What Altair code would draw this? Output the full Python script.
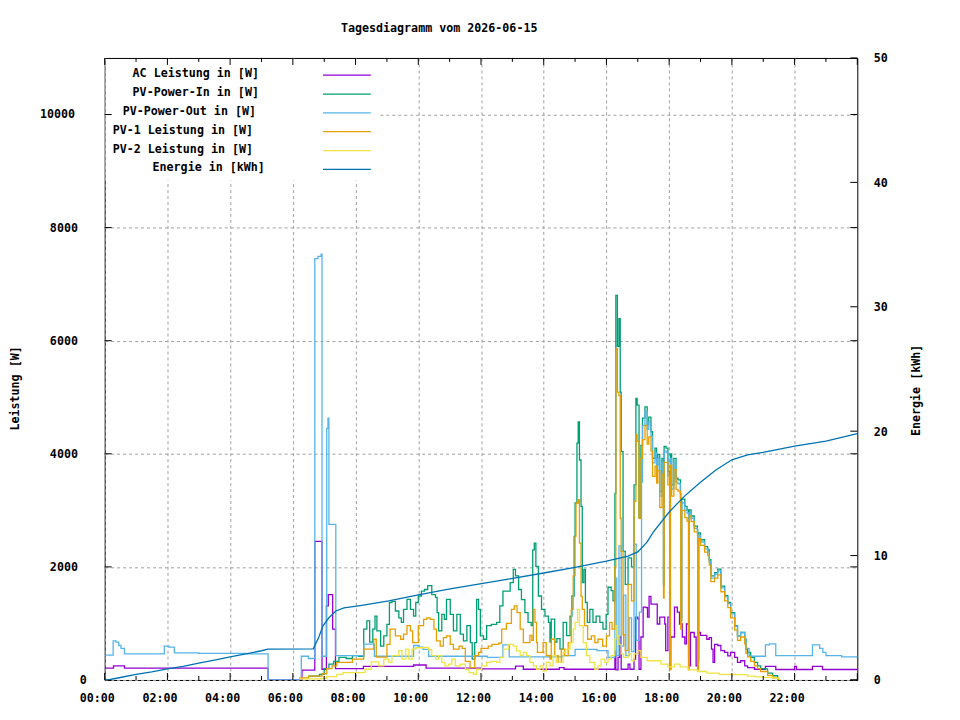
import altair as alt
import pandas as pd

TITLE = "Tagesdiagramm vom 2026-06-15"
Y_TITLE = "Leistung [W]"
Y2_TITLE = "Energie [kWh]"
NAMES = ["AC Leistung in [W]", "PV-Power-In in [W]", "PV-Power-Out in [W]",
         "PV-1 Leistung in [W]", "PV-2 Leistung in [W]", "Energie in [kWh]"]
COLORS = ["#9400d3", "#009e73", "#56b4e9", "#e69f00", "#f0e442", "#0072b2"]

X_TICKS = list(range(0, 25))
X_LABELS = list(range(0, 24, 2))
Y_TICKS = [0, 2000, 4000, 6000, 8000, 10000]
Y2_TICKS = [0, 10, 20, 30, 40, 50]

# (hour, W)
ac = [(0.00,210),(0.28,250),(0.63,210),(5.21,0),(6.29,175),(6.70,2450),(6.93,190),(7.07,1310),(7.13,1510),
      (7.27,900),(7.36,200),(8.25,240),(9.85,265),(10.25,210),(12.00,195),(13.10,245),(13.35,190),(14.50,220),
      (14.65,190),(16.27,510),(16.30,180),(16.37,400),(16.42,760),(16.47,190),(16.69,280),(16.75,190),
      (16.88,370),(16.93,1110),(17.00,1080),(17.04,190),(17.10,760),(17.17,1290),(17.26,1280),(17.31,1110),
      (17.36,1480),(17.42,1340),(17.55,1340),(17.62,990),(17.70,1110),(17.80,1110),(17.86,990),(17.89,520),
      (17.96,1110),(18.02,190),(18.05,760),(18.17,1290),(18.26,1200),(18.33,990),(18.42,760),(18.50,640),
      (18.55,990),(18.62,250),(18.68,840),(18.80,760),(18.86,250),(18.92,840),(19.00,790),(19.20,720),
      (19.28,750),(19.35,545),(19.40,310),(19.45,630),(19.55,610),(19.65,520),(19.77,490),(19.87,425),
      (19.96,490),(20.09,400),(20.18,310),(20.28,340),(20.41,250),(20.50,220),(20.72,190),(21.07,240),
      (21.40,185),(22.00,240),(22.06,185),(22.57,240),(22.89,185),(24.00,185)]

pv_in = [(6.50,70),(6.85,100),(7.00,200),(7.15,280),(7.30,330),(7.47,400),(7.70,380),(7.90,430),(8.10,420),
         (8.26,900),(8.36,1045),(8.45,670),(8.55,900),(8.62,1130),(8.68,870),(8.80,600),(8.90,780),(9.00,985),
         (9.08,1370),(9.16,1390),(9.27,1220),(9.38,1100),(9.46,1020),(9.53,1250),(9.64,1425),(9.75,1250),
         (9.85,1130),(9.92,1370),(10.00,1485),(10.10,1570),(10.20,1600),(10.30,1670),(10.43,1510),(10.55,1460),
         (10.60,1190),(10.65,870),(10.75,1160),(10.83,1074),(10.90,1425),(11.02,1160),(11.12,870),(11.23,1160),
         (11.34,810),(11.44,690),(11.55,960),(11.66,660),(11.72,370),(11.80,660),(11.86,1425),(11.92,1250),
         (11.98,780),(12.08,720),(12.18,960),(12.33,985),(12.50,1020),(12.60,1310),(12.70,1570),(12.80,1570),
         (12.93,1720),(13.03,1955),(13.10,1840),(13.20,1600),(13.29,1420),(13.40,1190),(13.50,1020),(13.60,960),
         (13.65,2300),(13.70,2420),(13.75,2010),(13.83,1485),(13.93,1250),(14.04,1130),(14.15,1020),(14.20,670),
         (14.24,1075),(14.35,670),(14.42,730),(14.52,545),(14.62,1020),(14.73,786),(14.84,1130),(14.90,1485),
         (14.97,2540),(15.00,3130),(15.06,4190),(15.10,4565),(15.14,3890),(15.19,3070),(15.23,1720),(15.28,1955),
         (15.33,1370),(15.39,1020),(15.47,1250),(15.57,1020),(15.67,1130),(15.79,1020),(15.89,900),(15.99,1160),
         (16.05,1640),(16.15,1580),(16.21,1400),(16.27,3300),(16.30,6800),(16.35,5900),(16.40,6390),(16.44,5090),
         (16.47,4040),(16.53,2275),(16.60,1690),(16.69,2160),(16.80,2000),(16.88,3450),(16.94,4980),(16.98,4860),
         (17.04,2870),(17.10,4150),(17.15,4630),(17.23,4830),(17.30,4510),(17.35,4650),(17.42,4390),(17.47,3920),
         (17.55,4100),(17.60,3800),(17.64,3990),(17.70,3330),(17.77,3920),(17.82,1700),(17.84,4130),(17.90,4100),
         (17.96,3690),(18.02,400),(18.04,4000),(18.08,3450),(18.15,3920),(18.22,3570),(18.28,3540),(18.36,3300),
         (18.37,1100),(18.40,3200),(18.50,3070),(18.57,3010),(18.62,400),(18.64,3010),(18.70,2900),(18.80,2720),
         (18.90,2660),(18.91,350),(18.94,2600),(19.00,2480),(19.13,2360),(19.23,2300),(19.28,2130),(19.33,1840),
         (19.45,1900),(19.55,1960),(19.65,1660),(19.77,1490),(19.87,1370),(19.96,1190),(20.09,960),(20.18,780),
         (20.28,840),(20.41,720),(20.45,545),(20.50,486),(20.60,400),(20.72,310),(20.82,250),(20.92,200),
         (21.04,195),(21.14,120),(21.30,75),(21.46,20),(21.50,0)]

pv_out = [(0.00,440),(0.27,690),(0.36,670),(0.45,610),(0.52,560),(0.63,460),(1.90,600),(2.05,580),(2.22,480),
          (3.00,470),(4.50,460),(5.21,0),(6.27,420),(6.50,380),(6.70,7450),(6.80,7490),(6.90,7530),(6.93,420),
          (7.08,4450),(7.12,4630),(7.15,2750),(7.37,430),(8.26,634),(8.60,420),(9.85,610),(10.00,580),
          (10.15,540),(10.33,420),(12.20,400),(12.70,620),(12.90,410),(14.60,430),(15.00,540),(15.70,520),
          (16.05,400),(16.27,1800),(16.33,430),(16.40,2370),(16.47,600),(16.55,1500),(16.62,430),(16.72,1100),
          (16.80,500),(16.88,2400),(16.95,700),(17.05,1200),(17.12,3500),(17.15,4500),(17.23,4750),(17.30,4430),
          (17.35,4560),(17.42,4310),(17.47,3840),(17.55,4020),(17.60,3720),(17.64,3910),(17.70,3250),(17.77,3840),
          (17.82,1650),(17.84,4050),(17.90,4020),(17.96,3610),(18.02,350),(18.04,3920),(18.08,3380),(18.15,3840),
          (18.22,3500),(18.28,3470),(18.36,3230),(18.37,1050),(18.40,3130),(18.50,3000),(18.57,2950),(18.62,350),
          (18.64,2960),(18.70,2860),(18.80,2680),(18.90,2620),(18.91,330),(18.94,2560),(19.00,2440),(19.13,2320),
          (19.23,2260),(19.28,2090),(19.33,1800),(19.45,1870),(19.55,1930),(19.65,1630),(19.77,1470),(19.87,1350),
          (19.96,1170),(20.09,950),(20.18,780),(20.28,840),(20.41,720),(20.45,560),(20.55,420),(21.07,620),
          (21.20,640),(21.40,430),(22.57,620),(22.80,560),(22.90,490),(23.00,430),(23.50,410),(24.00,390)]

pv1 = [(6.20,35),(6.50,70),(6.93,110),(7.08,200),(7.25,250),(7.40,310),(7.90,370),(8.26,545),(8.58,720),
       (8.66,405),(9.00,630),(9.10,900),(9.27,780),(9.44,720),(9.53,810),(9.64,960),(9.75,870),(9.82,660),
       (10.00,960),(10.17,1070),(10.27,1100),(10.38,1070),(10.50,900),(10.58,690),(10.70,600),(10.80,750),
       (10.90,780),(11.02,630),(11.12,545),(11.30,600),(11.40,560),(11.50,330),(11.65,220),(11.80,430),
       (11.92,490),(12.00,560),(12.23,600),(12.35,630),(12.56,650),(12.66,900),(12.81,1000),(12.97,1250),
       (13.06,1310),(13.15,1190),(13.25,900),(13.35,660),(13.56,790),(13.62,700),(13.67,1250),(13.72,1020),
       (13.77,660),(13.80,490),(13.98,660),(14.08,430),(14.20,370),(14.24,720),(14.35,430),(14.46,310),
       (14.56,545),(14.67,430),(14.78,660),(14.88,1250),(14.94,1840),(15.00,2540),(15.03,3130),(15.10,3190),
       (15.14,2420),(15.19,1480),(15.23,1250),(15.30,960),(15.40,720),(15.52,780),(15.63,660),(15.73,720),
       (15.88,600),(16.00,780),(16.10,1020),(16.18,900),(16.27,2000),(16.30,5860),(16.35,5090),(16.40,5030),
       (16.44,2860),(16.47,2275),(16.53,800),(16.60,520),(16.69,1690),(16.80,1400),(16.88,3160),(16.94,4340),
       (16.98,4220),(17.04,2860),(17.10,3920),(17.15,4250),(17.23,4500),(17.30,4170),(17.35,4300),(17.42,4050),
       (17.47,3600),(17.55,3780),(17.60,3480),(17.64,3700),(17.70,3050),(17.77,3640),(17.82,1450),(17.84,3850),
       (17.90,3850),(17.96,3450),(18.02,180),(18.04,3800),(18.08,3250),(18.15,3720),(18.22,3370),(18.28,3340),
       (18.36,3100),(18.37,900),(18.40,3000),(18.50,2870),(18.57,2810),(18.62,180),(18.64,2900),(18.70,2800),
       (18.80,2620),(18.90,2560),(18.91,180),(18.94,2500),(19.00,2380),(19.13,2260),(19.23,2200),(19.28,2030),
       (19.33,1740),(19.45,1800),(19.55,1860),(19.65,1560),(19.77,1400),(19.87,1280),(19.96,1100),(20.09,880),
       (20.18,700),(20.28,760),(20.41,640),(20.45,470),(20.50,410),(20.60,330),(20.72,250),(20.82,200),
       (20.92,150),(21.04,150),(21.14,80),(21.30,40),(21.46,5),(21.52,0)]

pv2 = [(6.20,20),(6.90,30),(7.08,60),(7.40,100),(7.60,130),(8.30,190),(8.50,320),(8.74,250),(8.90,370),
       (9.06,310),(9.16,430),(9.38,520),(9.48,370),(9.60,545),(9.70,370),(9.80,545),(9.92,570),(10.20,575),
       (10.33,535),(10.43,430),(10.55,370),(10.65,430),(10.75,310),(10.85,250),(10.97,280),(11.07,370),
       (11.18,250),(11.34,280),(11.50,190),(11.62,130),(11.76,100),(11.86,190),(12.02,250),(12.18,310),
       (12.33,330),(12.50,310),(12.60,400),(12.72,545),(12.87,630),(13.03,600),(13.13,515),(13.25,430),
       (13.35,490),(13.45,430),(13.56,310),(13.67,250),(13.77,190),(13.88,250),(13.98,160),(14.08,310),
       (14.20,250),(14.30,430),(14.40,310),(14.62,490),(14.70,545),(14.84,660),(14.94,900),(15.00,1020),
       (15.08,1250),(15.14,960),(15.26,660),(15.36,430),(15.47,310),(15.63,190),(15.73,250),(15.83,370),
       (15.95,310),(16.05,370),(16.15,430),(16.27,720),(16.30,960),(16.35,780),(16.40,630),(16.47,460),
       (16.55,400),(16.69,460),(16.80,340),(16.88,460),(17.00,520),(17.10,400),(17.30,340),(17.74,280),
       (17.96,230),(18.17,280),(18.35,230),(18.60,180),(18.90,150),(19.20,120),(19.60,100),(20.00,95),
       (20.50,70),(20.75,55),(21.00,45),(21.30,35),(21.52,0)]

# (hour, kWh)
energy = [(0.00,0.0),(0.10,0.0),(0.50,0.2),(1.00,0.45),(1.50,0.65),(2.00,0.9),(2.50,1.1),(3.00,1.35),
          (3.50,1.6),(4.00,1.85),(4.50,2.1),(5.00,2.35),(5.20,2.48),(6.65,2.5),(6.83,3.45),(6.96,4.35),
          (7.15,5.0),(7.37,5.55),(7.63,5.8),(8.20,6.0),(9.06,6.35),(10.00,6.85),(10.97,7.3),(11.92,7.7),
          (12.87,8.1),(14.00,8.6),(15.00,9.05),(16.00,9.55),(16.69,9.95),(17.00,10.3),(17.30,11.1),
          (17.50,11.9),(18.00,13.5),(18.50,14.8),(19.00,15.9),(19.50,16.9),(20.00,17.7),(20.50,18.1),
          (21.00,18.3),(22.00,18.8),(23.00,19.2),(24.00,19.8)]

# ---------------------------------------------------------------------------
W, H = 755, 624
FONT = "DejaVu Sans Mono"
FS = 11.7
GRID = "#a0a0a0"
LW = 1.3
TXT = dict(font=FONT, fontSize=FS, fontWeight="bold", color="black")


def frame(pairs):
    return pd.DataFrame(pairs, columns=["h", "v"])


one = pd.DataFrame({"a": [0]})

x_axis = alt.Axis(values=X_LABELS,
                  labelExpr="(datum.value < 10 ? '0' : '') + datum.value + ':00'",
                  grid=True, gridColor=GRID, gridDash=[3, 3], gridWidth=1,
                  ticks=False, domain=False, labelFont=FONT, labelFontSize=FS,
                  labelFontWeight="bold", labelColor="black", labelPadding=13,
                  labelOffset=-8, labelFlush=False, labelOverlap=False, title=None)
X = alt.X("h:Q", scale=alt.Scale(domain=[0, 24], nice=False, zero=False), axis=x_axis)

y_axis = alt.Axis(orient="left", values=Y_TICKS, grid=True, gridColor=GRID, gridDash=[3, 3],
                  gridWidth=1, ticks=False, domain=False, labels=False,
                  title=Y_TITLE, titleFont=FONT, titleFontSize=FS, titleFontWeight="bold",
                  titleColor="black", titleAngle=270, titleX=-90, titleY=331,
                  titleAlign="center", titleBaseline="middle")
Y = alt.Y("v:Q", scale=alt.Scale(domain=[0, 11000], nice=False, zero=True), axis=y_axis)

e_axis = alt.Axis(orient="right", values=Y2_TICKS, grid=False, ticks=False, domain=False,
                  labelFont=FONT, labelFontSize=FS, labelFontWeight="bold", labelColor="black",
                  labelPadding=16, labelAlign="left",
                  title=Y2_TITLE, titleFont=FONT, titleFontSize=FS, titleFontWeight="bold",
                  titleColor="black", titleAngle=270, titleX=58, titleY=333,
                  titleAlign="center", titleBaseline="middle")
E = alt.Y("v:Q", scale=alt.Scale(domain=[0, 50], nice=False, zero=True), axis=e_axis)


def power_line(pairs, color):
    return alt.Chart(frame(pairs)).mark_line(
        interpolate="step-after", color=color, strokeWidth=LW, clip=True
    ).encode(x=X, y=Y)


power_layers = [power_line(s, c) for s, c in zip([ac, pv_in, pv_out, pv1, pv2], COLORS[:5])]

ytick_df = pd.DataFrame({"v": Y_TICKS})
ytick_l = alt.Chart(ytick_df).mark_rule(color="black", strokeWidth=1).encode(
    y=Y, x=alt.value(0), x2=alt.value(7))
ytick_r = alt.Chart(ytick_df).mark_rule(color="black", strokeWidth=1).encode(
    y=Y, x=alt.value(W - 7), x2=alt.value(W))

ylabels = []
for v in Y_TICKS:
    s = str(v)
    ylabels.append(
        alt.Chart(pd.DataFrame({"v": [v]})).mark_text(align="left", baseline="middle", **TXT)
        .encode(y=Y, x=alt.value(-15 - 10 * len(s)), text=alt.value(s))
    )

power = alt.layer(*power_layers, ytick_l, ytick_r, *ylabels)

energy_line = alt.Chart(frame(energy)).mark_line(color=COLORS[5], strokeWidth=LW, clip=True).encode(x=X, y=E)
etick = alt.Chart(pd.DataFrame({"v": Y2_TICKS})).mark_rule(color="black", strokeWidth=1).encode(
    y=E, x=alt.value(W - 7), x2=alt.value(W))
en = alt.layer(energy_line, etick)

major = pd.DataFrame({"h": [t for t in X_TICKS if t % 2 == 0]})
minor = pd.DataFrame({"h": [t for t in X_TICKS if t % 2 == 1]})
xticks = []
for df, ln in [(major, 7), (minor, 4)]:
    xticks.append(alt.Chart(df).mark_rule(color="black", strokeWidth=1).encode(
        x=X, y=alt.value(H), y2=alt.value(H - ln)))
    xticks.append(alt.Chart(df).mark_rule(color="black", strokeWidth=1).encode(
        x=X, y=alt.value(0), y2=alt.value(ln)))

legend_bg = alt.Chart(one).mark_rect(color="white").encode(
    x=alt.value(1), x2=alt.value(276), y=alt.value(1), y2=alt.value(123))

legend_items = []
for i, (name, col) in enumerate(zip(NAMES, COLORS)):
    ty = 15.3 + i * 18.9
    legend_items.append(
        alt.Chart(one).mark_text(align="left", baseline="middle", **TXT).encode(
            x=alt.value(208 - 10 * len(name)), y=alt.value(ty), text=alt.value(name)))
    legend_items.append(
        alt.Chart(one).mark_rule(color=col, strokeWidth=LW).encode(
            x=alt.value(219), x2=alt.value(267), y=alt.value(ty + 2)))

title_txt = alt.Chart(one).mark_text(align="left", baseline="middle", **TXT).encode(
    x=alt.value(237), y=alt.value(-30), text=alt.value(TITLE))

chart = alt.layer(
    legend_bg, power, en, *xticks, *legend_items, title_txt
).resolve_scale(y="independent").properties(
    width=W, height=H,
    autosize=alt.AutoSizeParams(type="none"),
    padding={"left": 97, "top": 49, "right": 95, "bottom": 30},
    background="white",
).configure_view(stroke="black", strokeWidth=1)

chart.save("out.html", embed_options={"renderer": "svg", "actions": False})
